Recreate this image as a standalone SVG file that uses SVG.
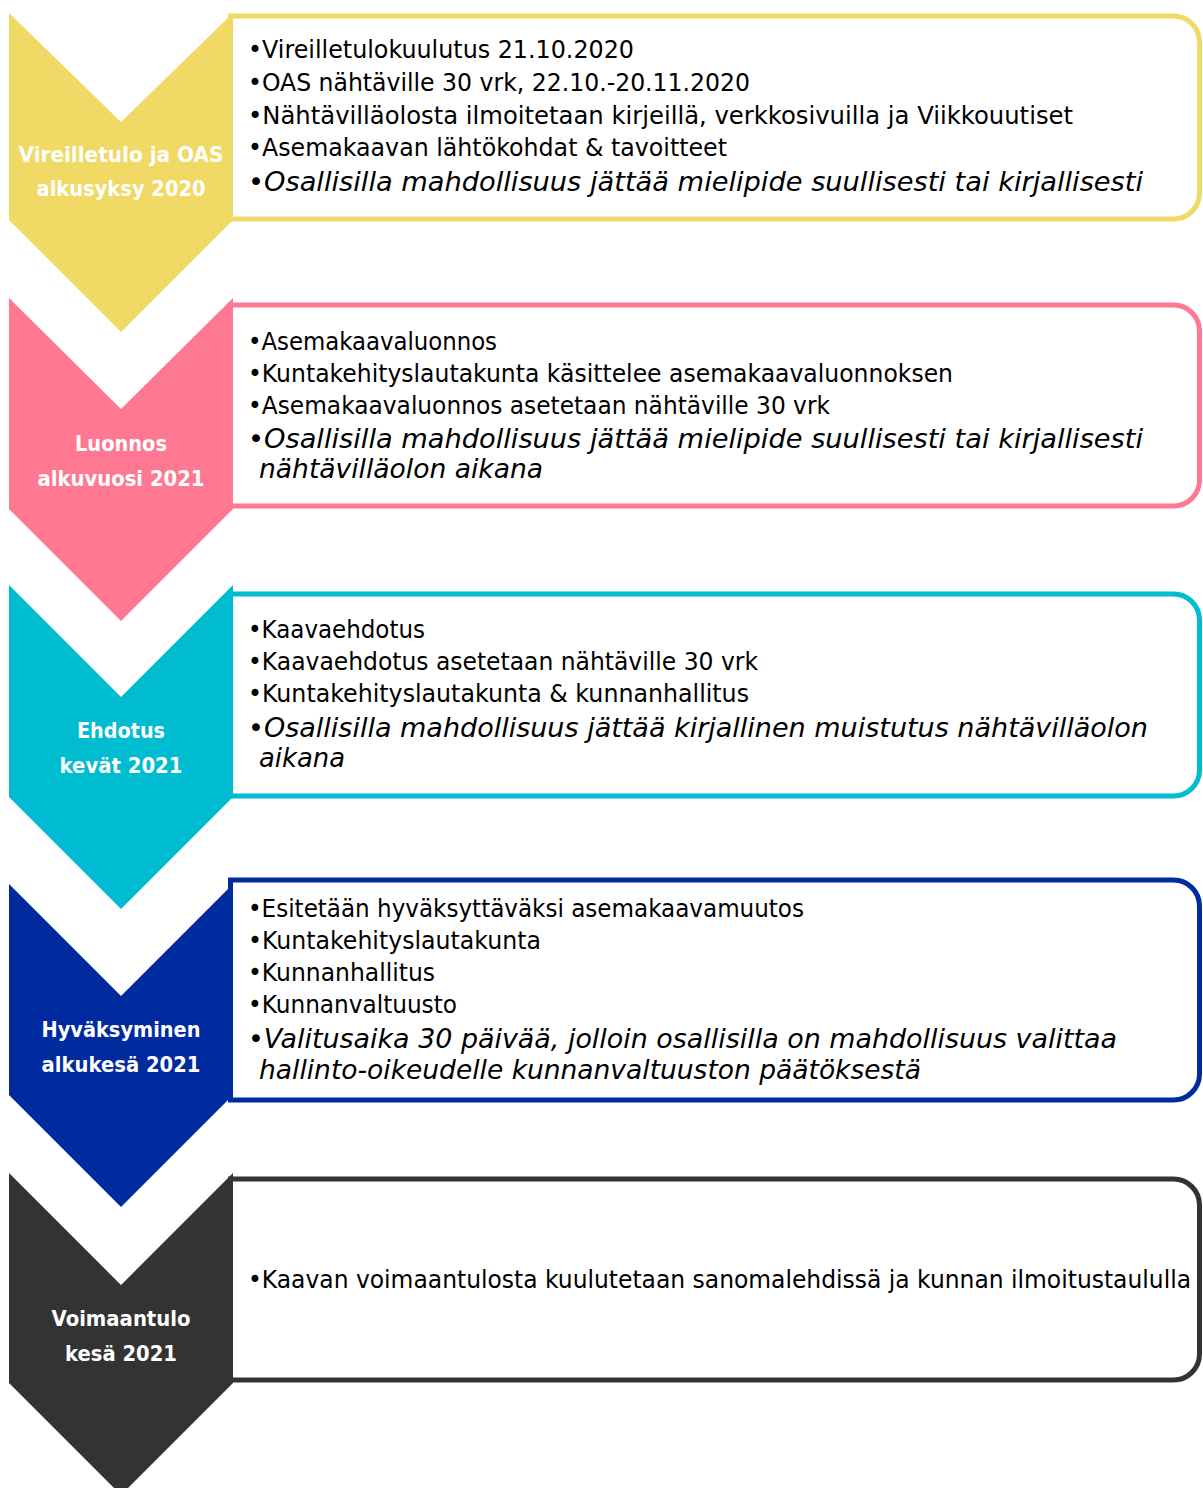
<svg xmlns="http://www.w3.org/2000/svg" width="1203" height="1488" viewBox="0 0 1203 1488">
<style>
.box{fill:#ffffff;stroke-width:5}
.t{font-family:"DejaVu Sans",Verdana,sans-serif;font-size:24px;fill:#000000}
.i{font-family:"DejaVu Sans",Verdana,sans-serif;font-size:27px;font-style:italic;fill:#000000}
.l{font-family:"DejaVu Sans",Verdana,sans-serif;font-size:22px;font-weight:bold;fill:#ffffff;text-anchor:middle}
</style>
<rect width="1203" height="1488" fill="#ffffff"/>
<g id="step1">
<path class="box" stroke="#F0D964" d="M230.5,16 H1173.5 A26,26 0 0 1 1199.5,42 V193 A26,26 0 0 1 1173.5,219 H230.5 Z"/>
<path fill="#F0D964" d="M9,13 L121,122 L233,13 L233,220 L121,332 L9,220 Z"/>
<text class="l" x="121" y="162" textLength="205" lengthAdjust="spacingAndGlyphs">Vireilletulo ja OAS</text>
<text class="l" x="121" y="196" textLength="169" lengthAdjust="spacingAndGlyphs">alkusyksy 2020</text>
<text class="t" x="248" y="58" textLength="386" lengthAdjust="spacingAndGlyphs">•Vireilletulokuulutus 21.10.2020</text>
<text class="t" x="248" y="91" textLength="502" lengthAdjust="spacingAndGlyphs">•OAS nähtäville 30 vrk, 22.10.-20.11.2020</text>
<text class="t" x="248" y="124" textLength="825" lengthAdjust="spacingAndGlyphs">•Nähtävilläolosta ilmoitetaan kirjeillä, verkkosivuilla ja Viikkouutiset</text>
<text class="t" x="248" y="156" textLength="479" lengthAdjust="spacingAndGlyphs">•Asemakaavan lähtökohdat &amp; tavoitteet</text>
<text class="i" x="248" y="191" textLength="895" lengthAdjust="spacingAndGlyphs">•Osallisilla mahdollisuus jättää mielipide suullisesti tai kirjallisesti</text>
</g>
<g id="step2">
<path class="box" stroke="#FE7892" d="M230.5,305 H1173.5 A26,26 0 0 1 1199.5,331 V480 A26,26 0 0 1 1173.5,506 H230.5 Z"/>
<path fill="#FE7892" d="M9,298 L121,409 L233,298 L233,509 L121,621 L9,509 Z"/>
<text class="l" x="121" y="451" textLength="92" lengthAdjust="spacingAndGlyphs">Luonnos</text>
<text class="l" x="121" y="486" textLength="167" lengthAdjust="spacingAndGlyphs">alkuvuosi 2021</text>
<text class="t" x="248" y="350" textLength="249" lengthAdjust="spacingAndGlyphs">•Asemakaavaluonnos</text>
<text class="t" x="248" y="382" textLength="705" lengthAdjust="spacingAndGlyphs">•Kuntakehityslautakunta käsittelee asemakaavaluonnoksen</text>
<text class="t" x="248" y="414" textLength="582" lengthAdjust="spacingAndGlyphs">•Asemakaavaluonnos asetetaan nähtäville 30 vrk</text>
<text class="i" x="248" y="448" textLength="895" lengthAdjust="spacingAndGlyphs">•Osallisilla mahdollisuus jättää mielipide suullisesti tai kirjallisesti</text>
<text class="i" x="259" y="478" textLength="284" lengthAdjust="spacingAndGlyphs">nähtävilläolon aikana</text>
</g>
<g id="step3">
<path class="box" stroke="#00BCD1" d="M230.5,594 H1173.5 A26,26 0 0 1 1199.5,620 V770 A26,26 0 0 1 1173.5,796 H230.5 Z"/>
<path fill="#00BCD1" d="M9,585 L121,697 L233,585 L233,797 L121,909 L9,797 Z"/>
<text class="l" x="121" y="738" textLength="88" lengthAdjust="spacingAndGlyphs">Ehdotus</text>
<text class="l" x="121" y="773" textLength="123" lengthAdjust="spacingAndGlyphs">kevät 2021</text>
<text class="t" x="248" y="638" textLength="177" lengthAdjust="spacingAndGlyphs">•Kaavaehdotus</text>
<text class="t" x="248" y="670" textLength="510" lengthAdjust="spacingAndGlyphs">•Kaavaehdotus asetetaan nähtäville 30 vrk</text>
<text class="t" x="248" y="702" textLength="501" lengthAdjust="spacingAndGlyphs">•Kuntakehityslautakunta &amp; kunnanhallitus</text>
<text class="i" x="248" y="737" textLength="900" lengthAdjust="spacingAndGlyphs">•Osallisilla mahdollisuus jättää kirjallinen muistutus nähtävilläolon</text>
<text class="i" x="259" y="767" textLength="86" lengthAdjust="spacingAndGlyphs">aikana</text>
</g>
<g id="step4">
<path class="box" stroke="#002B9F" d="M230.5,880 H1173.5 A26,26 0 0 1 1199.5,906 V1074 A26,26 0 0 1 1173.5,1100 H230.5 Z"/>
<path fill="#002B9F" d="M9,884 L121,996 L233,884 L233,1095 L121,1207 L9,1095 Z"/>
<text class="l" x="121" y="1037" textLength="159" lengthAdjust="spacingAndGlyphs">Hyväksyminen</text>
<text class="l" x="121" y="1072" textLength="159" lengthAdjust="spacingAndGlyphs">alkukesä 2021</text>
<text class="t" x="248" y="917" textLength="556" lengthAdjust="spacingAndGlyphs">•Esitetään hyväksyttäväksi asemakaavamuutos</text>
<text class="t" x="248" y="949" textLength="293" lengthAdjust="spacingAndGlyphs">•Kuntakehityslautakunta</text>
<text class="t" x="248" y="981" textLength="187" lengthAdjust="spacingAndGlyphs">•Kunnanhallitus</text>
<text class="t" x="248" y="1013" textLength="209" lengthAdjust="spacingAndGlyphs">•Kunnanvaltuusto</text>
<text class="i" x="248" y="1048" textLength="869" lengthAdjust="spacingAndGlyphs">•Valitusaika 30 päivää, jolloin osallisilla on mahdollisuus valittaa</text>
<text class="i" x="259" y="1079" textLength="662" lengthAdjust="spacingAndGlyphs">hallinto-oikeudelle kunnanvaltuuston päätöksestä</text>
</g>
<g id="step5">
<path class="box" stroke="#333333" d="M230.5,1179 H1173.5 A26,26 0 0 1 1199.5,1205 V1354 A26,26 0 0 1 1173.5,1380 H230.5 Z"/>
<path fill="#333333" d="M9,1173 L121,1285 L233,1173 L233,1383 L121,1495 L9,1383 Z"/>
<text class="l" x="121" y="1326" textLength="139" lengthAdjust="spacingAndGlyphs">Voimaantulo</text>
<text class="l" x="121" y="1361" textLength="112" lengthAdjust="spacingAndGlyphs">kesä 2021</text>
<text class="t" x="248" y="1288" textLength="943" lengthAdjust="spacingAndGlyphs">•Kaavan voimaantulosta kuulutetaan sanomalehdissä ja kunnan ilmoitustaululla</text>
</g>
<g id="connectors"></g>
</svg>
